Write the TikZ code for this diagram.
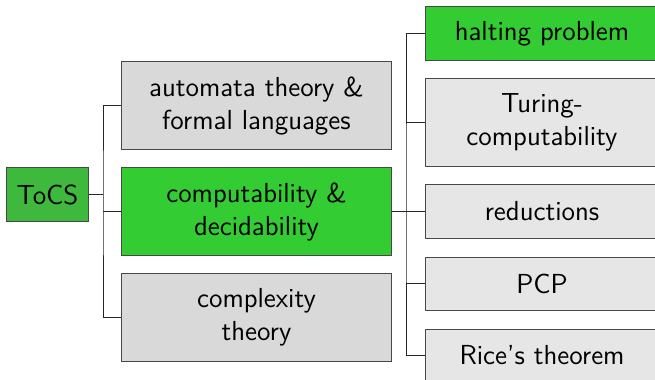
\documentclass[tikz,border=0pt]{standalone}
\usepackage{tikz}
\usetikzlibrary{calc}
\definecolor{rootgreen}{RGB}{62,185,62}
\definecolor{hotgreen}{RGB}{51,204,51}
\definecolor{topicgray}{RGB}{217,217,217}
\definecolor{subgray}{RGB}{230,230,230}
\tikzset{box/.style={draw=black!72,inner sep=0pt,align=center,
    font=\fontsize{11}{13.2}\selectfont\sffamily},
  root/.style={box,fill=rootgreen,minimum width=32.4pt,minimum height=21.2pt},
  topic/.style={box,fill=topicgray,minimum width=108pt,minimum height=34.8pt},
  sub/.style={box,fill=subgray,minimum width=92.8pt,minimum height=21.2pt},
  link/.style={black!85,line width=0.4pt}}

\begin{document}
\begin{tikzpicture}[x=0.4pt,y=-0.4pt]
\useasboundingbox (0,0) rectangle (655,380);
\node[root] (tocs) at (47.5,194.5) {ToCS};
\node[topic] (automata) at (256.5,105.5) {automata theory \&\\formal languages};
\node[topic,fill=hotgreen] (comp) at (256.5,211.5) {computability \&\\decidability};
\node[topic] (complexity) at (256.5,317.5) {complexity\\theory};
\node[sub,fill=hotgreen] (halting) at (542,33.5) {halting problem};
\node[sub,minimum height=34.8pt] (turing) at (542,122.5) {Turing-\\computability};
\node[sub] (reductions) at (542,211.5) {reductions};
\node[sub] (pcp) at (542,283.5) {PCP};
\node[sub] (rice) at (542,355.5) {Rice's theorem};
% forks
\coordinate (fork1) at (103,194.5);
\coordinate (fork2) at (406,211.5);
\draw[link] (tocs.east) -- (fork1);
\draw[link] (automata.west) -| (fork1) |- (complexity.west);
\draw[link] (fork1 |- comp.west) -- (comp.west);
\draw[link] (comp.east) -- (fork2);
\draw[link] (halting.west) -| (fork2) |- (rice.west);
\foreach \n in {turing,reductions,pcp}
  \draw[link] (fork2 |- \n.west) -- (\n.west);
\end{tikzpicture}
\end{document}
